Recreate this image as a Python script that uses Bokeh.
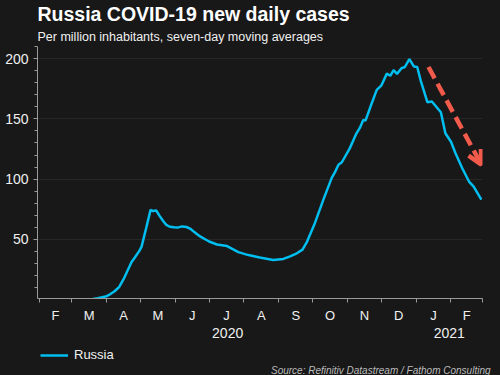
import pandas as pd
from bokeh.plotting import figure
from bokeh.layouts import column
from bokeh.models import (Range1d, FixedTicker, LinearAxis, SingleIntervalTicker,
                          Legend, LegendItem, Title, Arrow, OpenHead)
from bokeh.embed import file_html
from bokeh.resources import INLINE

# ---- data ----
dates = [
    "2020-03-10", "2020-03-20", "2020-03-24", "2020-03-31", "2020-04-04", "2020-04-08",
    "2020-04-12", "2020-04-16", "2020-04-20", "2020-04-23", "2020-04-26", "2020-04-30",
    "2020-05-02", "2020-05-06", "2020-05-10", "2020-05-12", "2020-05-15", "2020-05-18",
    "2020-05-21", "2020-05-24", "2020-05-27", "2020-05-31", "2020-06-03", "2020-06-07",
    "2020-06-11", "2020-06-14", "2020-06-17", "2020-06-23", "2020-07-01", "2020-07-08",
    "2020-07-17", "2020-07-22", "2020-07-27", "2020-08-05", "2020-08-15", "2020-08-27",
    "2020-09-05", "2020-09-11", "2020-09-17", "2020-09-22", "2020-09-26", "2020-10-03",
    "2020-10-11", "2020-10-18", "2020-10-21", "2020-10-24", "2020-10-27", "2020-11-03",
    "2020-11-09", "2020-11-12", "2020-11-15", "2020-11-17", "2020-11-22", "2020-11-27",
    "2020-12-01", "2020-12-06", "2020-12-09", "2020-12-12", "2020-12-15", "2020-12-19",
    "2020-12-22", "2020-12-26", "2020-12-30", "2021-01-02", "2021-01-05", "2021-01-11",
    "2021-01-15", "2021-01-23", "2021-01-27", "2021-02-01", "2021-02-05", "2021-02-11",
    "2021-02-17", "2021-02-21", "2021-02-28",
]
russia = [
    0.05, 0.5, 1.2, 2.6, 4.5, 7.0,
    10.5, 17.0, 25.0, 31.0, 35.0, 40.5,
    44.0, 59.0, 74.5, 73.5, 74.0, 69.5,
    65.5, 62.0, 60.5, 60.0, 59.8, 60.8,
    60.3, 59.0, 56.8, 52.5, 48.3, 45.8,
    44.5, 42.0, 39.5, 37.0, 35.0, 33.0,
    33.8, 35.9, 38.5, 41.5, 48.0, 63.5,
    84.0, 101.0, 106.0, 112.0, 114.0, 125.5,
    138.0, 142.5, 149.0, 148.5, 161.5, 174.0,
    177.5, 187.5, 185.7, 190.5, 187.3, 192.0,
    193.0, 199.5, 193.5, 193.0, 182.0, 163.8,
    164.4, 155.5, 138.0, 131.0, 121.5, 109.0,
    98.0, 94.0, 83.0,
]
month_starts = ["2020-02-01", "2020-03-01", "2020-04-01", "2020-05-01", "2020-06-01",
                "2020-07-01", "2020-08-01", "2020-09-01", "2020-10-01", "2020-11-01",
                "2020-12-01", "2021-01-01", "2021-02-01", "2021-03-01"]
month_letters = ["F", "M", "A", "M", "J", "J", "A", "S", "O", "N", "D", "J", "F"]
year_labels = ["2020", "2021"]
year_starts = ["2020-01-01", "2021-01-01", "2022-01-01"]
arrow_dates = ["2021-01-12", "2021-02-28"]
arrow_values = [193.0, 112.0]
series_name = "Russia"
source_text = "Source: Refinitiv Datastream / Fathom Consulting"

# ---- styles ----
BG = "#181818"
AXIS = "#9a9a9a"
TXT = "#f0f0f0"
LINE = "#00bff0"
RED = "#f25b4b"
FONT = "Liberation Sans"
W = 500

origin = pd.Timestamp(month_starts[0])
def day(s):
    return (pd.Timestamp(s) - origin).days

x = [day(s) for s in dates]
ms = [day(s) for s in month_starts]
mids = [(a + b) / 2 for a, b in zip(ms[:-1], ms[1:])]
ys = [max(day(s), ms[0]) for s in year_starts]
ys = [min(v, ms[-1]) for v in ys]
year_mids = [(a + b) / 2 for a, b in zip(ys[:-1], ys[1:])]

p = figure(width=W, height=340, output_backend="svg", toolbar_location=None,
           x_range=Range1d(ms[0] - 1.5, ms[-1]), y_range=Range1d(1, 210),
           background_fill_color=BG, border_fill_color=BG, outline_line_color=None,
           min_border_left=37, min_border_right=18, min_border_top=0, min_border_bottom=0)

# titles
p.title.text = "Russia COVID-19 new daily cases"
p.title.text_font = FONT
p.title.text_font_size = "19.5px"
p.title.text_font_style = "bold"
p.title.text_color = "#ffffff"
p.title.align = "left"
p.title.offset = 0
p.title.standoff = 0
sub = Title(text="Per million inhabitants, seven-day moving averages", text_font=FONT,
            text_font_size="12.5px", text_font_style="normal", text_color=TXT,
            align="left", offset=0, standoff=6)
p.add_layout(sub, "above")

# line
r = p.line(x, russia, line_color=LINE, line_width=2.5)

# y axis
yax = p.yaxis[0]
yax.ticker = SingleIntervalTicker(interval=50, num_minor_ticks=5)
yax.axis_line_color = AXIS
yax.major_tick_line_color = AXIS
yax.minor_tick_line_color = AXIS
yax.major_tick_out = 4
yax.major_tick_in = 0
yax.minor_tick_out = 3
yax.minor_tick_in = 0
yax.major_label_text_font = FONT
yax.major_label_text_font_size = "14px"
yax.major_label_text_color = TXT
yax.major_label_standoff = 5
p.ygrid.ticker = SingleIntervalTicker(interval=50)
p.ygrid.grid_line_color = "#262626"
p.xgrid.grid_line_color = None

# x axis: month boundaries as tick marks, letters in between
xax = p.xaxis[0]
xax.ticker = FixedTicker(ticks=mids, minor_ticks=ms)
xax.major_label_overrides = {m: l for m, l in zip(mids, month_letters)}
xax.axis_line_color = AXIS
xax.major_tick_line_color = None
xax.major_tick_out = 4
xax.major_tick_in = 0
xax.minor_tick_line_color = AXIS
xax.minor_tick_out = 4
xax.minor_tick_in = 0
xax.major_label_text_font = FONT
xax.major_label_text_font_size = "13px"
xax.major_label_text_color = TXT
xax.major_label_standoff = 5

yearax = LinearAxis(ticker=FixedTicker(ticks=year_mids, minor_ticks=[]),
                    major_label_overrides={m: l for m, l in zip(year_mids, year_labels)},
                    axis_line_color=None, major_tick_line_color=None,
                    minor_tick_line_color=None, major_tick_out=0, major_tick_in=0,
                    major_label_text_font=FONT, major_label_text_font_size="14px",
                    major_label_text_color=TXT, major_label_standoff=2)
p.add_layout(yearax, "below")

# arrow
p.add_layout(Arrow(x_start=day(arrow_dates[0]), y_start=arrow_values[0],
                   x_end=day(arrow_dates[1]), y_end=arrow_values[1],
                   line_color=RED, line_width=4.5, line_dash="13 6",
                   end=OpenHead(size=14, line_color=RED, line_width=4.5)))

# ---- footer strip: legend + source ----
f = figure(width=W, height=35, output_backend="svg", toolbar_location=None,
           x_axis_location=None, y_axis_location=None,
           x_range=Range1d(0, 1), y_range=Range1d(0, 1),
           background_fill_color=BG, border_fill_color=BG, outline_line_color=None,
           min_border_left=37, min_border_right=18, min_border_top=0, min_border_bottom=0)
f.xgrid.grid_line_color = None
f.ygrid.grid_line_color = None
# same series drawn outside the strip's view: it only serves as the legend's key
proxy = f.line(x, russia, line_color=LINE, line_width=2.5)
legend = Legend(items=[LegendItem(label=series_name, renderers=[proxy])],
                location=(3, 0), orientation="horizontal",
                background_fill_alpha=0, border_line_color=None,
                label_text_font=FONT, label_text_font_size="13px", label_text_color=TXT,
                glyph_width=28, glyph_height=14, label_standoff=6,
                padding=0, margin=0, spacing=0)
f.add_layout(legend, "center")
src = Title(text=source_text, text_font=FONT,
            text_font_size="10px", text_font_style="italic", text_color="#bdbdbd",
            align="right", offset=-8, standoff=0)
f.add_layout(src, "below")

layout = column(p, f, spacing=0, styles={"background-color": BG})

html = file_html(layout, INLINE)
html = html.replace("<head>", "<head><style>html,body{background:#181818;}</style>", 1)
open("out.html", "w").write(html)
